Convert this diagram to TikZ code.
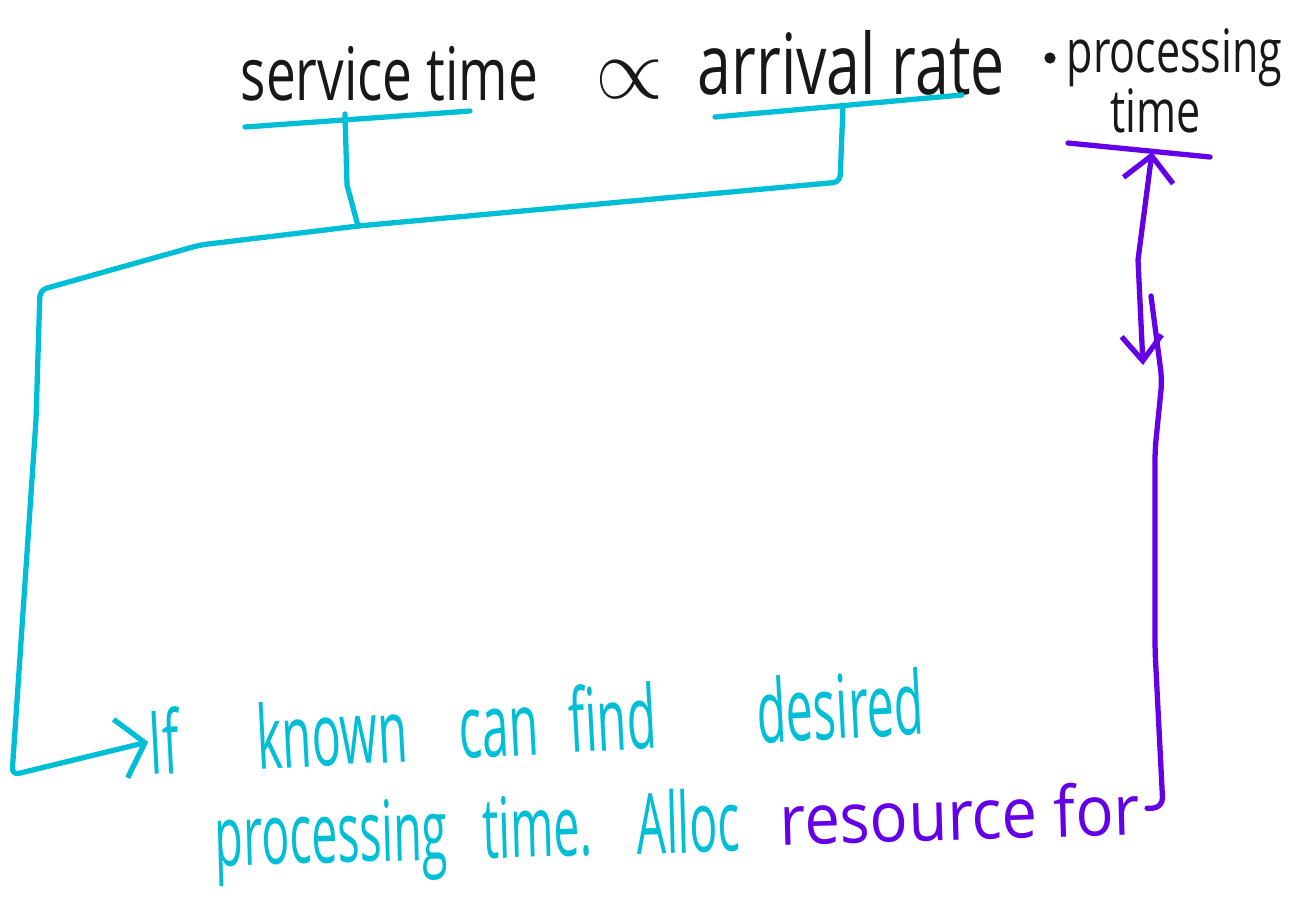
\documentclass[tikz,border=0pt]{standalone}
\usepackage{fontspec}
\setmainfont[FakeStretch=0.72]{Open Sans}
\newfontfamily\handnarrow[FakeStretch=0.55]{Open Sans}
\newfontfamily\handwide[FakeStretch=0.9]{Open Sans}
\usetikzlibrary{arrows.meta}

\definecolor{inkblack}{RGB}{24,24,24}
\definecolor{inkcyan}{RGB}{0,190,214}
\definecolor{inkpurple}{RGB}{100,0,232}

\tikzset{
  toptext/.style={inkblack, anchor=base west, inner sep=0pt},
  bottext/.style={inkcyan, anchor=base west, inner sep=0pt},
  cyanln/.style={inkcyan, line width=1.5pt, line cap=round, line join=round},
  purpleln/.style={inkpurple, line width=1.5pt, line cap=round, line join=round},
  handtip/.style={-{Straight Barb[length=2.5mm,width=6mm]}},
}

\begin{document}
\begin{tikzpicture}[x=0.01cm, y=-0.01cm]

		\useasboundingbox (0,0) rectangle (1291,905);

		% the relation on top
		\node[toptext, font=\fontsize{21}{24}\selectfont] (svc) at (240,100) {service time};
		\node[toptext, font=\fontsize{26}{28}\selectfont] (prop) at (595,98) {$\propto$};
		\node[toptext, font=\fontsize{24}{28}\selectfont] (arr) at (697,94) {arrival rate};
		\node[circle, fill=inkblack, inner sep=0pt, minimum size=3.2pt] (dot) at (1050,58) {};
		\node[toptext, font=\fontsize{17}{20}\selectfont] (proc) at (1066,72) {processing};
		\node[toptext, font=\fontsize{17}{20}\selectfont] (ptime) at (1110,132) {time};

		% the note below
		\node[bottext, font=\handnarrow\fontsize{25}{28}\selectfont, rotate=3] (known) at (150,775)
			{If\hspace{0.78cm}known\hspace{0.52cm}can\hspace{0.3cm}find\hspace{1.0cm}desired};
		\node[bottext, font=\handnarrow\fontsize{24}{28}\selectfont, rotate=1.6] (alloc) at (215,866)
			{processing\hspace{0.35cm}time.\hspace{0.45cm}Alloc};
		\node[bottext, inkpurple, font=\handwide\fontsize{20}{24}\selectfont, rotate=1.6] (resfor) at (780,845)
			{resource for};

		% underlines
		\coordinate (svcL) at (245,127);
		\coordinate (svcR) at (470,111);
		\coordinate (svcM) at (345,114);
		\coordinate (arrL) at (715,117);
		\coordinate (arrR) at (962,95);
		\coordinate (arrM) at (843,106);
		\coordinate (ptL) at (1068,143);
		\coordinate (ptR) at (1210,157);
		\coordinate (ptM) at (1152,152);

		\draw[cyanln] (svcL) -- (svcR);
		\draw[cyanln] (arrL) -- (arrR);
		\draw[purpleln] (ptL) -- (ptR);

		% cyan connector
		\coordinate (j1) at (358,226);
		\draw[cyanln] (svcM) -- (347,185) -- (j1);
		\draw[cyanln, handtip, rounded corners=2pt] (arrM) -- (840,182) -- (j1)
			-- (200,245) -- (40,290) -- (36,420) -- (12,775) -- (known.west);

		% purple connector
		\draw[purpleln, {Straight Barb[length=2.5mm,width=5mm]}-{Straight Barb[length=2.5mm,width=4mm]}]
			(ptM) -- (1138,260) -- (1143,365);
		\draw[purpleln, rounded corners=3pt, shorten >=2pt] (1151,296) -- (1162,380) -- (1155,450)
			-- (1155,650) -- (1163,808) -- (resfor.east);

	\end{tikzpicture}
\end{document}
